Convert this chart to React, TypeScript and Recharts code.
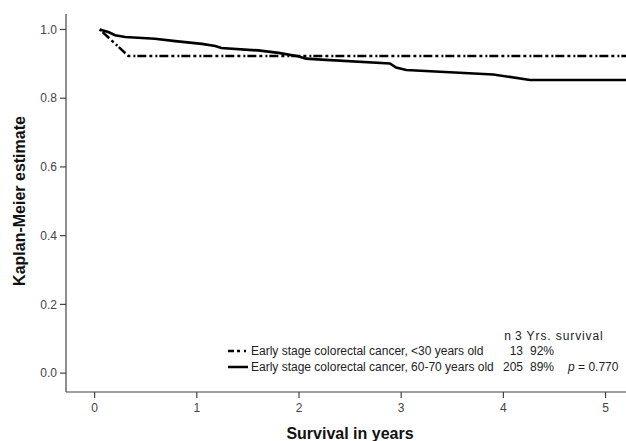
import { LineChart, Line, XAxis, YAxis } from 'recharts'

// survival time axis (years) and KM estimate axis
const xTicks = [0, 1, 2, 3, 4, 5]
const yTicks = [0, 0.2, 0.4, 0.6, 0.8, 1.0]

// <30 years old group (n = 13)
const youngTimes = [0.05, 0.33, 5.2]
const youngSurvival = [1.0, 0.923, 0.923]

// 60-70 years old group (n = 205)
const olderTimes = [0.05, 0.14, 0.2, 0.3, 0.59, 0.79, 1.05, 1.18, 1.24, 1.6, 1.8, 1.99, 2.07, 2.22, 2.89, 2.95, 3.05, 3.9, 4.26, 5.2]
const olderSurvival = [1.0, 0.992, 0.983, 0.978, 0.973, 0.966, 0.958, 0.952, 0.946, 0.939, 0.932, 0.922, 0.915, 0.912, 0.901, 0.889, 0.882, 0.869, 0.853, 0.853]

const legendLabels = ['Early stage colorectal cancer, <30 years old', 'Early stage colorectal cancer, 60-70 years old']
const legendN = ['13', '205']
const legendSurv = ['92%', '89%']
const pValue = '0.770'

const youngData = youngTimes.map((t, i) => ({ t, s: youngSurvival[i] }))
const olderData = olderTimes.map((t, i) => ({ t, s: olderSurvival[i] }))

const FONT = '"Liberation Sans", Arial, sans-serif'
const DASH = '2 2 9 3 3 3'

function YLabel({ viewBox }: any) {
  const cx = viewBox.x + 19
  const cy = viewBox.y + viewBox.height / 2 - 2
  return (
    <text x={cx} y={cy} transform={`rotate(-90 ${cx} ${cy})`} textAnchor="middle" dominantBaseline="central"
      fontFamily={FONT} fontSize={16} fontWeight="bold" fill="#111">
      Kaplan-Meier estimate
    </text>
  )
}

function XLabel({ viewBox }: any) {
  return (
    <text x={viewBox.x + viewBox.width / 2 + 4} y={viewBox.y + 47} textAnchor="middle"
      fontFamily={FONT} fontSize={16} fontWeight="bold" fill="#111">
      Survival in years
    </text>
  )
}

function KmLegend() {
  const rows = [355, 371]
  return (
    <svg width={626} height={441} style={{ position: 'absolute', left: 0, top: 0, pointerEvents: 'none' }}>
      <g fontFamily={FONT} fontSize={12} fill="#222">
        <text x={511} y={340} textAnchor="end">n</text>
        <text x={515} y={340} letterSpacing={0.9}>3 Yrs. survival</text>
        {legendLabels.map((label, i) => (
          <g key={label}>
            <line x1={228} x2={248} y1={rows[i] - 4} y2={rows[i] - 4} stroke="#000" strokeWidth={2.5}
              strokeDasharray={i === 0 ? '6 3 3 4 2 6' : undefined} />
            <text x={251} y={rows[i]}>{label}</text>
            <text x={523} y={rows[i]} textAnchor="end">{legendN[i]}</text>
            <text x={530} y={rows[i]}>{legendSurv[i]}</text>
          </g>
        ))}
        <text x={568} y={rows[1]}><tspan fontStyle="italic">p</tspan> = {pValue}</text>
      </g>
    </svg>
  )
}

export default function App() {
  return (
    <div style={{ position: 'absolute', left: 0, top: 0, width: 626, height: 441, background: '#fff' }}>
      <LineChart width={626} height={441} margin={{ top: 14, right: 0, bottom: 0, left: 0 }}>
        <XAxis
          type="number"
          dataKey="t"
          domain={[-0.28, 5.2]}
          ticks={xTicks}
          allowDataOverflow
          height={49}
          axisLine={{ stroke: '#444', strokeWidth: 1.2 }}
          tickLine={{ stroke: '#444', strokeWidth: 1.2 }}
          tickSize={6}
          tickMargin={5}
          tick={{ fill: '#444', fontSize: 12, fontFamily: FONT }}
          label={<XLabel />}
        />
        <YAxis
          type="number"
          domain={[-0.055, 1.045]}
          ticks={yTicks}
          allowDataOverflow
          width={66}
          axisLine={{ stroke: '#444', strokeWidth: 1.2 }}
          tickLine={{ stroke: '#444', strokeWidth: 1.2 }}
          tickSize={6}
          tickMargin={3}
          tickFormatter={(v: number) => v.toFixed(1)}
          tick={{ fill: '#444', fontSize: 12, fontFamily: FONT }}
          label={<YLabel />}
        />
        <Line data={youngData} dataKey="s" type="linear" stroke="#000" strokeWidth={2.5}
          strokeDasharray={DASH} dot={false} activeDot={false} isAnimationActive={false} />
        <Line data={olderData} dataKey="s" type="linear" stroke="#000" strokeWidth={2.7}
          dot={false} activeDot={false} isAnimationActive={false} />
      </LineChart>
      <KmLegend />
    </div>
  )
}
